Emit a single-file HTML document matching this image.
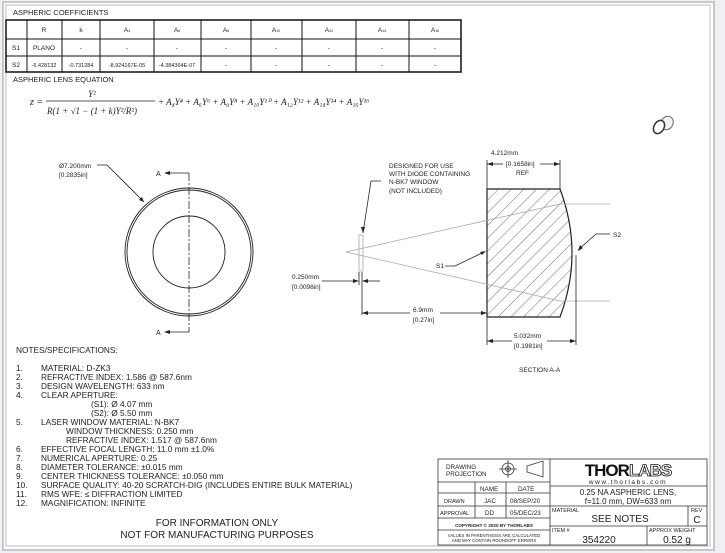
<!DOCTYPE html>
<html><head><meta charset="utf-8"><style>
html,body{margin:0;padding:0;width:725px;height:553px;overflow:hidden;background:#eef0f4}
svg{display:block}
text{font-family:"Liberation Sans",sans-serif;fill:#222}
.m{font-family:"Liberation Serif",serif;font-style:italic}
</style></head><body>
<svg width="725" height="553" viewBox="0 0 725 553" xmlns="http://www.w3.org/2000/svg">
<rect x="0" y="0" width="725" height="553" fill="#eef0f4"/>
<rect x="3" y="2" width="711" height="548" fill="#fff" stroke="#c8c8c8" stroke-width="2"/>
<rect x="6" y="5" width="704" height="541" fill="none" stroke="#bbb" stroke-width="1"/>

<!-- Table -->
<text x="13" y="15" font-size="7.5">ASPHERIC COEFFICIENTS</text>
<g stroke="#111" fill="none">
<rect x="6" y="20" width="455" height="52" stroke-width="1.5"/>
<line x1="6" y1="39" x2="461" y2="39"/><line x1="6" y1="56" x2="461" y2="56"/>
<line x1="27" y1="20" x2="27" y2="72"/><line x1="62" y1="20" x2="62" y2="72"/><line x1="100" y1="20" x2="100" y2="72"/>
<line x1="154" y1="20" x2="154" y2="72"/><line x1="201" y1="20" x2="201" y2="72"/><line x1="251" y1="20" x2="251" y2="72"/>
<line x1="302" y1="20" x2="302" y2="72"/><line x1="356" y1="20" x2="356" y2="72"/><line x1="409" y1="20" x2="409" y2="72"/>
</g>
<g font-size="6.5" text-anchor="middle">
<text x="44" y="32">R</text><text x="81" y="32">k</text>
<text x="127" y="32">A<tspan font-size="3.5">4</tspan></text><text x="177" y="32">A<tspan font-size="3.5">6</tspan></text>
<text x="226" y="32">A<tspan font-size="3.5">8</tspan></text><text x="276" y="32">A<tspan font-size="3.5">10</tspan></text>
<text x="329" y="32">A<tspan font-size="3.5">12</tspan></text><text x="382" y="32">A<tspan font-size="3.5">14</tspan></text>
<text x="435" y="32">A<tspan font-size="3.5">16</tspan></text>
<text x="16" y="50">S1</text><text x="44" y="50">PLANO</text>
<text x="81" y="50">-</text><text x="127" y="50">-</text><text x="177" y="50">-</text><text x="226" y="50">-</text><text x="276" y="50">-</text><text x="329" y="50">-</text><text x="382" y="50">-</text><text x="435" y="50">-</text>
<text x="16" y="67">S2</text><text x="44" y="67" font-size="5.5">-6.428132</text><text x="81" y="67" font-size="5.5">-0.731284</text>
<text x="127" y="67" font-size="5.5">-8.924167E-05</text><text x="177" y="67" font-size="5.5">-4.384364E-07</text>
<text x="226" y="67">-</text><text x="276" y="67">-</text><text x="329" y="67">-</text><text x="382" y="67">-</text><text x="435" y="67">-</text>
</g>
<text x="13" y="82" font-size="7.5">ASPHERIC LENS EQUATION</text>
<!-- equation -->
<text x="30" y="105" font-size="10" class="m">z =</text>
<text x="92" y="97" font-size="9" class="m" text-anchor="middle">Y²</text>
<line x1="46" y1="101" x2="155" y2="101" stroke="#222" stroke-width="0.8"/>
<text x="47" y="114" font-size="9" class="m">R(1 + √1 − (1 + k)Y²/R²)</text>
<text x="158" y="105" font-size="9" class="m">+ A₄Y⁴ + A₆Y⁶ + A₈Y⁸ + A₁₀Y¹⁰ + A₁₂Y¹² + A₁₄Y¹⁴ + A₁₆Y¹⁶</text>

<!-- lens icon -->
<g stroke="#666" fill="#f4f4f4" stroke-width="1">
<ellipse cx="667" cy="123" rx="6" ry="7" transform="rotate(30 667 123)"/>
<ellipse cx="659" cy="127" rx="5" ry="7" transform="rotate(30 659 127)" fill="#fff" stroke="#333" stroke-width="1.5"/>
</g>

<!-- front view -->
<g fill="none" stroke="#222">
<circle cx="189" cy="252" r="64" stroke-width="0.9"/>
<circle cx="189" cy="252" r="62" stroke-width="0.9"/>
<circle cx="189" cy="252" r="36" stroke-width="0.9"/>
<line x1="189" y1="173" x2="189" y2="332" stroke-dasharray="8,2,2,2" stroke-width="0.8"/>
<polyline points="167,173 189,173" stroke-width="0.8"/><polyline points="167,332 189,332" stroke-width="0.8"/>
<polyline points="97,165 107,165 144,202" stroke-width="0.8"/>
</g>
<path d="M164,173 l6,-2 v4z M164,332 l6,-2 v4z M144,202 l-5,-2 3,-3z" fill="#222"/>
<text x="156" y="176" font-size="7">A</text><text x="156" y="335" font-size="7">A</text>
<text x="59" y="168" font-size="6.5">Ø7.200mm</text>
<text x="59" y="177" font-size="6.5">[0.2835in]</text>

<!-- section view -->
<defs><pattern id="h" width="9" height="9" patternUnits="userSpaceOnUse" patternTransform="rotate(45)"><line x1="0" y1="0" x2="0" y2="9" stroke="#333" stroke-width="0.7"/></pattern></defs>
<path d="M487,189 H560 Q584,253 560,317 H487 Z" fill="url(#h)" stroke="#222" stroke-width="1.2"/>
<g stroke="#aaa" fill="none" stroke-width="0.8">
<polyline points="610,204 560,204 346,252 560,301 610,301"/>
<rect x="359" y="235" width="4" height="36"/>
</g>
<g stroke="#222" fill="none" stroke-width="0.8">
<line x1="487" y1="160" x2="487" y2="189"/><line x1="560" y1="160" x2="560" y2="189"/>
<line x1="487" y1="164" x2="503" y2="164"/><line x1="540" y1="164" x2="560" y2="164"/>
<line x1="487" y1="317" x2="487" y2="345"/><line x1="576" y1="255" x2="576" y2="345"/>
<line x1="487" y1="341" x2="512" y2="341"/><line x1="547" y1="341" x2="576" y2="341"/>
<line x1="362" y1="272" x2="362" y2="315"/><line x1="359" y1="272" x2="359" y2="285"/>
<line x1="362" y1="313" x2="410" y2="313"/><line x1="440" y1="313" x2="487" y2="313"/>
<line x1="322" y1="281" x2="356" y2="281"/><line x1="365" y1="281" x2="380" y2="281"/>
<polyline points="381,181 371,181 363,233"/>
<polyline points="445,266 455,266 484,252"/>
<polyline points="610,234 596,234 578,250"/>
</g>
<path d="M487,164 l6,-2 v4z M560,164 l-6,-2 v4z M487,341 l6,-2 v4z M576,341 l-6,-2 v4z M362,313 l6,-2 v4z M487,313 l-6,-2 v4z M359,281 l-6,-2 v4z M362,281 l6,-2 v4z M363,233 l-2,-6 4,0z M486,251 l-6,1 2,3z M578,251 l2,-6 3,3z" fill="#222"/>
<g font-size="6.5">
<text x="491" y="155">4.212mm</text><text x="506" y="166">[0.1658in]</text><text x="516" y="175">REF</text>
<text x="389" y="168">DESIGNED FOR USE</text><text x="389" y="176">WITH DIODE CONTAINING</text>
<text x="389" y="184">N-BK7 WINDOW</text><text x="389" y="193">(NOT INCLUDED)</text>
<text x="436" y="268">S1</text><text x="613" y="237">S2</text>
<text x="292" y="279">0.250mm</text><text x="292" y="289">[0.0098in]</text>
<text x="413" y="312">6.9mm</text><text x="413" y="322">[0.27in]</text>
<text x="514" y="338">5.032mm</text><text x="514" y="348">[0.1981in]</text>
<text x="519" y="372">SECTION A-A</text>
</g>

<!-- notes -->
<g font-size="8.3">
<text x="16" y="353">NOTES/SPECIFICATIONS:</text>
<text x="16" y="371">1.</text><text x="41" y="371">MATERIAL: D-ZK3</text>
<text x="16" y="380">2.</text><text x="41" y="380">REFRACTIVE INDEX: 1.586 @ 587.6nm</text>
<text x="16" y="389">3.</text><text x="41" y="389">DESIGN WAVELENGTH: 633 nm</text>
<text x="16" y="398">4.</text><text x="41" y="398">CLEAR APERTURE:</text>
<text x="91" y="407">(S1): Ø 4.07 mm</text>
<text x="91" y="416">(S2): Ø 5.50 mm</text>
<text x="16" y="425">5.</text><text x="41" y="425">LASER WINDOW MATERIAL: N-BK7</text>
<text x="66" y="434">WINDOW THICKNESS: 0.250 mm</text>
<text x="66" y="443">REFRACTIVE INDEX: 1.517 @ 587.6nm</text>
<text x="16" y="452">6.</text><text x="41" y="452">EFFECTIVE FOCAL LENGTH: 11.0 mm ±1.0%</text>
<text x="16" y="461">7.</text><text x="41" y="461">NUMERICAL APERTURE: 0.25</text>
<text x="16" y="470">8.</text><text x="41" y="470">DIAMETER TOLERANCE: ±0.015 mm</text>
<text x="16" y="479">9.</text><text x="41" y="479">CENTER THICKNESS TOLERANCE: ±0.050 mm</text>
<text x="16" y="488">10.</text><text x="41" y="488">SURFACE QUALITY: 40-20 SCRATCH-DIG (INCLUDES ENTIRE BULK MATERIAL)</text>
<text x="16" y="497">11.</text><text x="41" y="497">RMS WFE: ≤ DIFFRACTION LIMITED</text>
<text x="16" y="506">12.</text><text x="41" y="506">MAGNIFICATION: INFINITE</text>
</g>
<text x="217" y="526" font-size="10" text-anchor="middle">FOR INFORMATION ONLY</text>
<text x="217" y="538" font-size="10" text-anchor="middle">NOT FOR MANUFACTURING PURPOSES</text>

<!-- title block -->
<g stroke="#333" fill="none" stroke-width="0.8">
<rect x="438" y="459" width="269" height="86"/>
<line x1="550" y1="459" x2="550" y2="545"/>
<line x1="438" y1="482" x2="550" y2="482"/><line x1="438" y1="493" x2="550" y2="493"/>
<line x1="438" y1="506" x2="550" y2="506"/><line x1="438" y1="518" x2="550" y2="518"/><line x1="438" y1="530" x2="550" y2="530"/>
<line x1="475" y1="482" x2="475" y2="518"/><line x1="506" y1="482" x2="506" y2="518"/>
<line x1="550" y1="486" x2="707" y2="486"/><line x1="550" y1="506" x2="707" y2="506"/><line x1="550" y1="526" x2="707" y2="526"/>
<line x1="688" y1="506" x2="688" y2="526"/><line x1="647" y1="526" x2="647" y2="545"/>
<circle cx="508" cy="469" r="6"/><circle cx="508" cy="469" r="2.5"/>
<line x1="499" y1="469" x2="517" y2="469"/><line x1="508" y1="460" x2="508" y2="478"/>
<path d="M527,466 L543,461 V477 L527,472 Z"/>
</g>
<circle cx="508" cy="469" r="1" fill="#333"/>
<g font-size="6.3">
<text x="446" y="469">DRAWING</text><text x="446" y="476">PROJECTION</text>
<text x="480" y="491">NAME</text><text x="518" y="491">DATE</text>
<text x="444" y="503" font-size="5.5">DRAWN</text><text x="484" y="503">JAC</text><text x="510" y="503">08/SEP/20</text>
<text x="440" y="515" font-size="5.5">APPROVAL</text><text x="485" y="515">DD</text><text x="510" y="515">05/DEC/23</text>
<text x="494" y="527" font-size="4.6" text-anchor="middle" font-weight="bold">COPYRIGHT © 2020 BY THORLABS</text>
<text x="494" y="537" font-size="4.3" text-anchor="middle">VALUES IN PARENTHESIS ARE CALCULATED</text>
<text x="494" y="542" font-size="4.3" text-anchor="middle">AND MAY CONTAIN ROUNDOFF ERRORS</text>
<text x="552" y="512" font-size="5.5">MATERIAL</text><text x="691" y="512" font-size="5.5">REV</text>
<text x="552" y="532" font-size="5.5">ITEM #</text><text x="649" y="532" font-size="5.5">APPROX WEIGHT</text>
</g>
<text x="628" y="476" font-size="17" font-weight="bold" text-anchor="middle" letter-spacing="-1" fill="#111" style="fill:#111">THOR<tspan fill="#fff" stroke="#111" stroke-width="0.8">LABS</tspan></text>
<text x="628" y="484" font-size="6.5" text-anchor="middle" letter-spacing="1.6">www.thorlabs.com</text>
<text x="628" y="495" font-size="8" text-anchor="middle">0.25 NA ASPHERIC LENS,</text>
<text x="628" y="504" font-size="8" text-anchor="middle">f=11.0 mm, DW=633 nm</text>
<text x="620" y="522" font-size="10" text-anchor="middle">SEE NOTES</text>
<text x="697" y="523" font-size="10" text-anchor="middle">C</text>
<text x="599" y="543" font-size="10" text-anchor="middle">354220</text>
<text x="677" y="543" font-size="10" text-anchor="middle">0.52 g</text>
</svg>
</body></html>
